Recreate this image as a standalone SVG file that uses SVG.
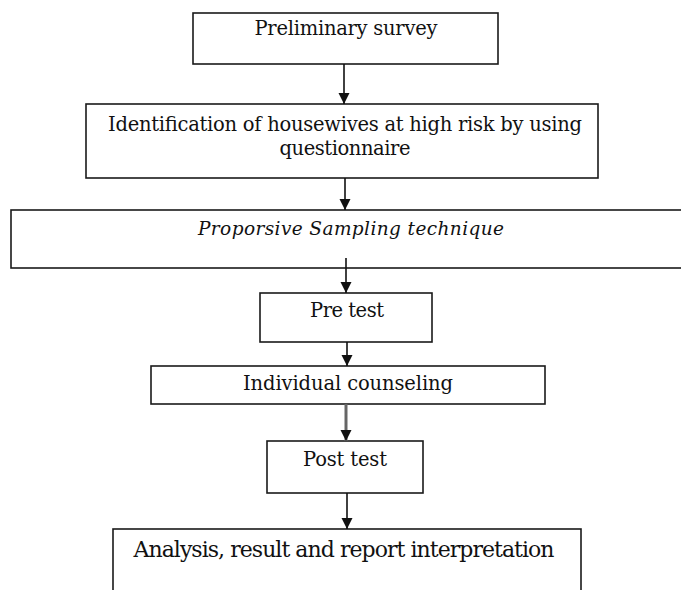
<svg xmlns="http://www.w3.org/2000/svg" width="681" height="590" viewBox="0 0 681 590">
<style>
.box{fill:#fff;stroke:#1a1a1a;stroke-width:1.6}
.t{font-family:"DejaVu Serif","Liberation Serif",serif;font-size:19.5px;fill:#111;text-anchor:middle}
.it{font-style:italic}
.edge{stroke:#111;stroke-width:1.6;fill:none}
</style>
<defs>
<marker id="ah" markerUnits="userSpaceOnUse" markerWidth="12" markerHeight="12" viewBox="0 0 12 12" refX="11" refY="6" orient="auto">
<path d="M0,0.5 L11,6 L0,11.5 Z" fill="#111"/>
</marker>
</defs>
<rect width="681" height="590" fill="#fff"/>
<g id="n1">
<rect class="box" x="193" y="13" width="305" height="51"/>
<text class="t" x="346" y="35" textLength="183">Preliminary survey</text>
</g>
<g id="n2">
<rect class="box" x="86" y="104" width="512" height="74"/>
<text class="t" x="345" y="131" textLength="474">Identification of housewives at high risk by using</text>
<text class="t" x="345" y="155" textLength="131">questionnaire</text>
</g>
<g id="n3">
<rect class="box" x="11" y="210" width="690" height="58"/>
<text class="t it" x="351" y="235" textLength="306" style="font-size:18.5px">Proporsive Sampling technique</text>
</g>
<g id="n4">
<rect class="box" x="260" y="293" width="172" height="49"/>
<text class="t" x="347" y="317" textLength="74">Pre test</text>
</g>
<g id="n5">
<rect class="box" x="151" y="366" width="394" height="38"/>
<text class="t" x="348" y="390" textLength="210">Individual counseling</text>
</g>
<g id="n6">
<rect class="box" x="267" y="441" width="156" height="52"/>
<text class="t" x="345" y="466" textLength="84">Post test</text>
</g>
<g id="n7">
<rect class="box" x="113" y="529" width="468" height="80"/>
<text class="t" x="344" y="557" textLength="421" style="font-size:22px">Analysis, result and report interpretation</text>
</g>
<g id="connectors">
<line class="edge" x1="344" y1="64" x2="344" y2="104" marker-end="url(#ah)"/>
<line class="edge" x1="345" y1="178" x2="345" y2="210" marker-end="url(#ah)"/>
<line class="edge" x1="346" y1="258" x2="346" y2="293" marker-end="url(#ah)"/>
<line class="edge" x1="347" y1="342" x2="347" y2="366" marker-end="url(#ah)"/>
<line class="edge" x1="346" y1="404" x2="346" y2="441" marker-end="url(#ah)" style="stroke:#666;stroke-width:3"/>
<line class="edge" x1="347" y1="493" x2="347" y2="529" marker-end="url(#ah)"/>
</g>
</svg>
